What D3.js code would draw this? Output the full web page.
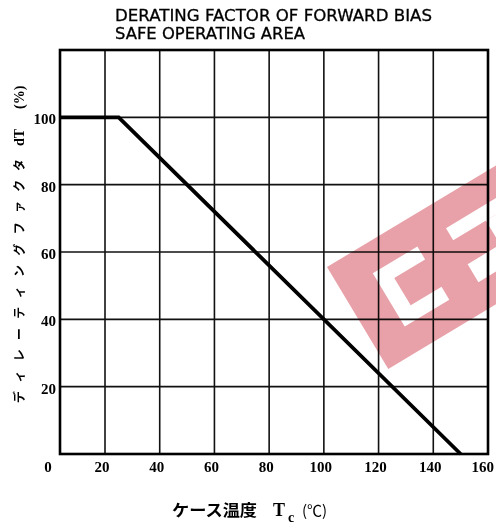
<!DOCTYPE html>
<html><head><meta charset="utf-8">
<script src="https://cdn.jsdelivr.net/npm/d3@7"></script>
<style>
html,body{margin:0;padding:0;background:#fff;}
svg{display:block;}
</style></head>
<body>
<svg id="c" width="496" height="525"></svg>
<script>
// ---- data ----
const titleLines = ["DERATING FACTOR OF FORWARD BIAS", "SAFE OPERATING AREA"];
const xTicks = [0, 20, 40, 60, 80, 100, 120, 140, 160];
const yTicks = [20, 40, 60, 80, 100];
const yGrid = [0, 20, 40, 60, 80, 100, 120];
const caseTemp = [0, 25, 150];      // Tc (°C)
const derating = [100, 100, 0];     // dT (%)
const xLabel = "ケース温度";
const yLabelJa = "ディレーティングファクタ";
const yLabelSym = ["dT", "(%)"];

const svg = d3.select("#c");
// scanned chart: first division is a bit narrower than the rest
const x = d3.scaleLinear().domain([0, 20, 160]).range([60, 105, 488]);
const y = d3.scaleLinear().domain([0, 120]).range([454, 50]);

// title
svg.append("g").selectAll("text").data(titleLines).join("text")
  .attr("x", 115).attr("y", (d, i) => 21 + i * 18)
  .attr("textLength", (d, i) => i === 0 ? 317 : 190)
  .attr("lengthAdjust", "spacingAndGlyphs")
  .style("font-family", "DejaVu Sans, sans-serif")
  .style("font-size", "16px").attr("fill", "#000")
  .attr("stroke", "#000").attr("stroke-width", 0.3)
  .text(d => d);

// grid
const g = svg.append("g");
g.selectAll("line.v").data(xTicks.slice(1, -1)).join("line")
  .attr("x1", d => x(d)).attr("x2", d => x(d))
  .attr("y1", y(120)).attr("y2", y(0))
  .attr("stroke", "#111").attr("stroke-width", 1.6);
g.selectAll("line.h").data(yGrid.slice(1, -1)).join("line")
  .attr("x1", x(0)).attr("x2", x(160))
  .attr("y1", d => y(d)).attr("y2", d => y(d))
  .attr("stroke", "#111").attr("stroke-width", 1.6);

// watermark (pink logo in the scan)
const wm = svg.append("g")
  .attr("transform", "translate(327,267) rotate(-31)")
  .style("mix-blend-mode", "multiply");
wm.append("rect").attr("x", 0).attr("y", 0).attr("width", 260).attr("height", 119)
  .attr("fill", "#e8a1a8");
wm.append("path").attr("fill", "#fff")
  .attr("d", "M36,29 H88 V44 H52 V76 H88 V91 H36 Z");
wm.append("path").attr("fill", "#fff")
  .attr("d", "M122,28 H260 V42 H122 Z M122,70 H260 V91 H122 Z");
wm.append("rect").attr("x", 160).attr("y", 42).attr("width", 20).attr("height", 28).attr("fill", "#fff");

// frame
svg.append("rect")
  .attr("x", x(0)).attr("y", y(120))
  .attr("width", x(160) - x(0)).attr("height", y(0) - y(120))
  .attr("fill", "none").attr("stroke", "#000").attr("stroke-width", 2.6);

// curve
svg.append("path")
  .datum(caseTemp.map((t, i) => [t, derating[i]]))
  .attr("d", d3.line().x(d => x(d[0])).y(d => y(d[1])))
  .attr("fill", "none").attr("stroke", "#000").attr("stroke-width", 3.8)
  .attr("stroke-linejoin", "miter");

// x tick labels
svg.append("g").selectAll("text").data(xTicks).join("text")
  .attr("x", d => d === 0 ? 48 : (d === 160 ? 494 : x(d) - 3)).attr("y", 472)
  .attr("text-anchor", d => d === 160 ? "end" : "middle")
  .style("font-family", "Liberation Serif, serif").style("font-weight", "bold")
  .style("font-size", "15px")
  .text(d => d);

// y tick labels
svg.append("g").selectAll("text").data(yTicks).join("text")
  .attr("x", 56).attr("y", d => y(d) + 7)
  .attr("text-anchor", "end")
  .style("font-family", "Liberation Serif, serif").style("font-weight", "bold")
  .style("font-size", "15px")
  .text(d => d);

// x axis title
svg.append("text").attr("x", 172).attr("y", 516)
  .attr("textLength", 85).attr("lengthAdjust", "spacingAndGlyphs")
  .style("font-family", "Noto Sans CJK JP, sans-serif").style("font-size", "16px")
  .style("font-weight", "bold")
  .text(xLabel);
svg.append("text").attr("x", 273).attr("y", 516)
  .style("font-family", "Liberation Serif, serif").style("font-weight", "bold")
  .style("font-size", "18px").text("T");
svg.append("text").attr("x", 288).attr("y", 522)
  .style("font-family", "Liberation Serif, serif").style("font-weight", "bold")
  .style("font-size", "14px").text("c");
svg.append("text").attr("x", 302).attr("y", 516)
  .style("font-family", "Noto Sans CJK JP, sans-serif").style("font-size", "15px")
  .text("(℃)");

// y axis title (rotated, reading bottom to top)
const yt = svg.append("g").attr("transform", "translate(24,0) rotate(-90)");
yt.append("text")
  .attr("x", -403).attr("y", 0)
  .attr("textLength", 244).attr("lengthAdjust", "spacing")
  .style("font-family", "Noto Sans CJK JP, sans-serif").style("font-size", "12px")
  .style("font-weight", "bold")
  .text(yLabelJa);
yt.selectAll("text.sym").data(yLabelSym).join("text")
  .attr("class", "sym")
  .attr("x", (d, i) => i === 0 ? -146 : -109).attr("y", 0)
  .style("font-family", "Liberation Serif, serif").style("font-size", "14px")
  .style("font-weight", "bold")
  .text(d => d);
</script>
</body></html>
